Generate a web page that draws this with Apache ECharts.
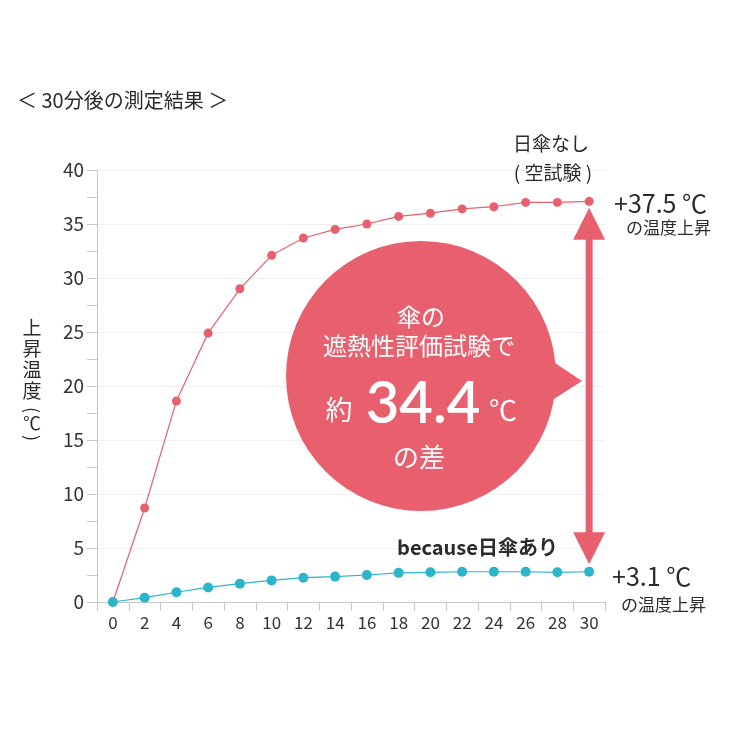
<!DOCTYPE html>
<html>
<head>
<meta charset="utf-8">
<script src="https://cdn.jsdelivr.net/npm/echarts@6/dist/echarts.min.js"></script>
<style>
  html, body { margin: 0; padding: 0; background: #fff; }
  #chart { width: 740px; height: 740px; }
</style>
</head>
<body>
<div id="chart"></div>
<script>
// minutes after start
const minutes = ['0', '2', '4', '6', '8', '10', '12', '14', '16', '18', '20', '22', '24', '26', '28', '30'];
// temperature rise (℃), no umbrella (blank test)
const noUmbrella = [0, 8.7, 18.6, 24.9, 29.0, 32.1, 33.7, 34.5, 35.0, 35.7, 36.0, 36.4, 36.6, 37.0, 37.0, 37.1];
// temperature rise (℃), with umbrella
const withUmbrella = [0, 0.4, 0.9, 1.35, 1.7, 2.0, 2.25, 2.35, 2.5, 2.7, 2.75, 2.8, 2.8, 2.8, 2.75, 2.8];

const FONT = '"Noto Sans CJK JP", sans-serif';
const RED = '#e8606e';
const TEAL = '#2cb5c8';
const INK = '#2b2b2b';

const chart = echarts.init(document.getElementById('chart'));

const options = {
  animation: false,
  backgroundColor: '#fff',
  textStyle: { fontFamily: FONT },
  grid: { left: 97, right: 135, top: 170, bottom: 138 },
  xAxis: {
    type: 'category',
    data: minutes,
    boundaryGap: true,
    axisLine: { lineStyle: { color: '#c8c8c8', width: 1 } },
    axisTick: { show: true, interval: 0, length: 9, lineStyle: { color: '#c8c8c8' } },
    axisLabel: { color: '#333', fontSize: 17, margin: 12, interval: 0, fontFamily: FONT },
    splitLine: { show: false }
  },
  yAxis: {
    type: 'value',
    min: 0,
    max: 40,
    interval: 5,
    axisLine: { show: true, lineStyle: { color: '#c8c8c8', width: 1 } },
    axisTick: { show: true, length: 10, lineStyle: { color: '#c8c8c8' } },
    minorTick: { show: true, splitNumber: 2, length: 10, lineStyle: { color: '#c8c8c8' } },
    axisLabel: { color: '#333', fontSize: 19, margin: 13, fontFamily: FONT },
    splitLine: { show: true, lineStyle: { color: '#f1f1f1', width: 1 } }
  },
  series: [
    {
      name: '日傘なし',
      type: 'line',
      data: noUmbrella,
      symbol: 'circle',
      symbolSize: 9,
      lineStyle: { color: RED, width: 1.2 },
      itemStyle: { color: RED },
      z: 3
    },
    {
      name: '日傘あり',
      type: 'line',
      data: withUmbrella,
      symbol: 'circle',
      symbolSize: 10,
      lineStyle: { color: TEAL, width: 1.2 },
      itemStyle: { color: TEAL },
      z: 3
    }
  ]
};

chart.setOption(options);

// double arrow between the two end points
const last = minutes.length - 1;
const topTip = chart.convertToPixel({ xAxisIndex: 0, yAxisIndex: 0 }, [last, 36.5]);
const botTip = chart.convertToPixel({ xAxisIndex: 0, yAxisIndex: 0 }, [last, 3.5]);
const ax = topTip[0];
const head = 32, halfW = 16, shaft = 3.5;

const label = (x, y, text, size, opts) => ({
  type: 'text',
  x: x,
  y: y,
  z: 10,
  rotation: (opts && opts.rotation) || 0,
  style: Object.assign({
    text: text,
    fill: INK,
    font: size + 'px ' + FONT,
    verticalAlign: 'middle'
  }, (opts && opts.style) || {})
});

const bubbleText = (cx, cy, text, size, weight, family) => ({
  type: 'text',
  x: cx,
  y: cy,
  z: 12,
  style: {
    text: text,
    fill: '#fff',
    font: (weight || 'normal') + ' ' + size + 'px ' + (family || FONT),
    align: 'center',
    verticalAlign: 'middle'
  }
});

chart.setOption({
  graphic: [
    // title
    label(17, 100, '＜ 30分後の測定結果 ＞', 20),
    // y axis name (vertical)
    label(32, 317, '上\n昇\n温\n度', 19, { style: { align: 'center', verticalAlign: 'top', lineHeight: 21 } }),
    label(32, 410, '(', 18, { rotation: -Math.PI / 2, style: { align: 'center' } }),
    label(32, 423, '℃', 18, { style: { align: 'center' } }),
    label(32, 438, ')', 18, { rotation: -Math.PI / 2, style: { align: 'center' } }),
    // right side labels
    label(551, 144, '日傘なし', 19, { style: { align: 'center' } }),
    label(553, 173, '( 空試験 )', 19, { style: { align: 'center' } }),
    label(614, 203, '+37.5 ℃', 25),
    label(626, 228, 'の温度上昇', 17),
    label(397, 547, 'because日傘あり', 20, { style: { font: 'bold 20px ' + FONT } }),
    label(612, 576, '+3.1 ℃', 25),
    label(621, 605, 'の温度上昇', 17),
    // double arrow
    { type: 'rect', z: 5,
      shape: { x: ax - shaft, y: topTip[1] + head - 2, width: shaft * 2, height: botTip[1] - topTip[1] - 2 * head + 4 },
      style: { fill: RED } },
    { type: 'polygon', z: 5,
      shape: { points: [[ax, topTip[1]], [ax + halfW, topTip[1] + head], [ax - halfW, topTip[1] + head]] },
      style: { fill: RED } },
    { type: 'polygon', z: 5,
      shape: { points: [[ax, botTip[1]], [ax + halfW, botTip[1] - head], [ax - halfW, botTip[1] - head]] },
      style: { fill: RED } },
    // speech bubble
    { type: 'circle', z: 6, shape: { cx: 421, cy: 376, r: 135 }, style: { fill: RED } },
    { type: 'polygon', z: 6, shape: { points: [[540, 353], [582, 381], [540, 408]] }, style: { fill: RED } },
    bubbleText(421, 317, '傘の', 24),
    bubbleText(419, 346, '遮熱性評価試験で', 24),
    bubbleText(339, 410, '約', 27),
    bubbleText(423, 404, '34.4', 58, '600', 'Lato, ' + FONT),
    bubbleText(503, 410, '℃', 28),
    bubbleText(419, 457, 'の差', 26)
  ]
});
</script>
</body>
</html>
